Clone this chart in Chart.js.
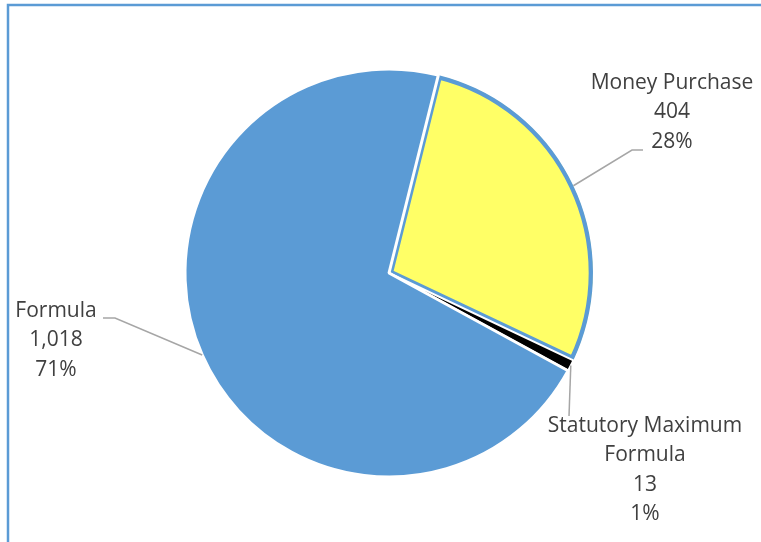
<!DOCTYPE html>
<html>
<head>
<meta charset="utf-8">
<script src="https://cdn.jsdelivr.net/npm/chart.js@4"></script>
<style>
  html, body { margin: 0; padding: 0; background: #fff; }
  #wrap { width: 761px; height: 542px; position: relative; }
</style>
</head>
<body>
<div id="wrap"><canvas id="pie"></canvas></div>
<script>
// data
const categories = ['Money Purchase', 'Statutory Maximum Formula', 'Formula'];
const labelLines = [['Money Purchase'], ['Statutory Maximum', 'Formula'], ['Formula']];
const counts = [404, 13, 1018];

const sliceColors = ['#FFFF66', '#000000', '#5B9BD5'];
const textColor = '#404040';
const leaderColor = '#A6A6A6';
const frameColor = '#5B9BD5';

// where each callout text sits and the bends of its leader line
const callouts = [
    { x: 672, y: 89, bend: [[632, 150], [643, 150]] },
    { x: 645, y: 432, bend: [[569, 416]] },
    { x: 56, y: 317, bend: [[115, 318], [103, 318]] }
];

const total = counts.reduce((a, b) => a + b, 0);

const calloutPlugin = {
    id: 'callouts',
    afterDatasetsDraw(chart) {
        const ctx = chart.ctx;
        const arcs = chart.getDatasetMeta(0).data;
        ctx.save();
        arcs.forEach((arc, i) => {
            const p = arc.getProps(['x', 'y', 'startAngle', 'endAngle', 'outerRadius'], true);
            const mid = (p.startAngle + p.endAngle) / 2;
            const sx = p.x + Math.cos(mid) * p.outerRadius;
            const sy = p.y + Math.sin(mid) * p.outerRadius;
            const c = callouts[i];

            ctx.strokeStyle = leaderColor;
            ctx.lineWidth = 1.5;
            ctx.beginPath();
            ctx.moveTo(sx, sy);
            c.bend.forEach(pt => ctx.lineTo(pt[0], pt[1]));
            ctx.stroke();

            const lines = labelLines[i].concat([
                counts[i].toLocaleString('en-US'),
                Math.round(counts[i] / total * 100) + '%'
            ]);
            ctx.fillStyle = textColor;
            ctx.font = '21px "Open Sans"';
            ctx.textAlign = 'center';
            ctx.textBaseline = 'alphabetic';
            lines.forEach((t, k) => ctx.fillText(t, c.x, c.y + k * 29.3));
        });
        ctx.restore();
    },
    afterDraw(chart) {
        const ctx = chart.ctx;
        ctx.save();
        ctx.strokeStyle = frameColor;
        ctx.lineWidth = 2.5;
        ctx.beginPath();
        ctx.moveTo(8, 542);
        ctx.lineTo(8, 5);
        ctx.lineTo(761, 5);
        ctx.stroke();
        ctx.restore();
    }
};

new Chart(document.getElementById('pie'), {
    type: 'pie',
    data: {
        labels: categories,
        datasets: [{
            data: counts,
            backgroundColor: sliceColors,
            borderColor: ['#5B9BD5', '#FFFFFF', '#FFFFFF'],
            borderWidth: [4, 2, 3],
            borderAlign: ['inner', 'center', 'center']
        }]
    },
    options: {
        responsive: true,
        maintainAspectRatio: false,
        animation: false,
        rotation: 14,
        radius: 204,
        layout: {
            padding: { left: 185, right: 168, top: 69, bottom: 65 }
        },
        plugins: {
            legend: { display: false },
            tooltip: { enabled: false }
        }
    },
    plugins: [calloutPlugin]
});
</script>
</body>
</html>
